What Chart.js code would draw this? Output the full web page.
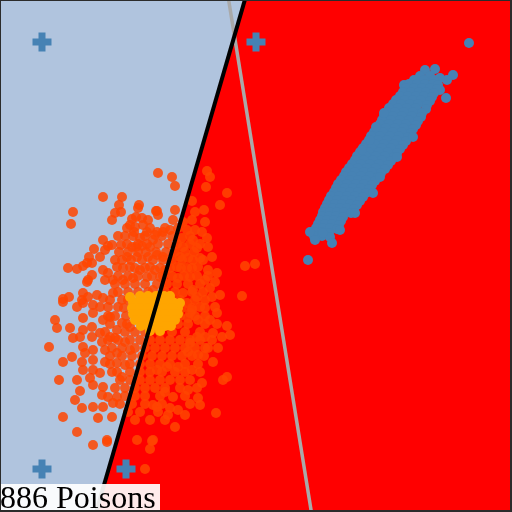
<!DOCTYPE html>
<html>
<head>
<meta charset="utf-8">
<script src="https://cdn.jsdelivr.net/npm/chart.js@4/dist/chart.umd.min.js"></script>
<style>
  html, body { margin: 0; padding: 0; background: #ffffff; }
  #wrap { position: relative; width: 512px; height: 512px; overflow: hidden; }
  #c { position: absolute; left: 0; top: 0; }
  #label {
    position: absolute; left: 0; top: 484px; width: 160px; height: 28px;
    background: rgba(255,255,255,0.92);
    font-family: "Liberation Serif", "Times New Roman", serif;
    font-size: 32px; line-height: 26px; color: #000; white-space: nowrap;
  }
  #frame {
    position: absolute; left: 0; top: 0; width: 512px; height: 512px; box-sizing: border-box;
    border-top: 1px solid #2b2b2b; border-left: 1px solid #2b2b2b;
    border-right: 2px solid #2b2b2b; border-bottom: 2px solid #2b2b2b;
    pointer-events: none;
  }
</style>
</head>
<body>
<div id="wrap">
  <canvas id="c" width="512" height="512"></canvas>
  <div id="label">886 Poisons</div>
  <div id="frame"></div>
</div>
<script>
// Plot domain (x to the right, y downward)
const domainX = [0, 512];
const domainY = [0, 512];

// Decision regions and boundaries
const blueRegion = [[-4, -4], [246, -4], [95, 516], [-4, 516]];
const redRegion = [[246, -4], [516, -4], [516, 516], [95, 516]];
const blackBoundary = [[246, -4], [95, 516]];
const grayBoundary = [[228, -4], [312, 516]];

// Plus markers
const plusMarkers = [[42, 42], [256, 42], [42, 469], [126, 469]];

// Blue (steel blue) cluster
const blueCluster = [
  [469,43],[453,75],[447,80],[425,70],[435,69],[404,85],[440,90],[446,98],
  [420,76],[430,76],[440,78],
  [414,80],[424,80],[434,80],
  [409,84],[417,84],[425,84],[433,84],[438,85],
  [406,88],[414,88],[422,88],[430,88],[437,89],
  [403,92],[411,92],[419,92],[426,92],[434,93],
  [400,96],[408,96],[416,96],[424,96],[432,97],
  [396,100],[405,100],[413,100],[421,100],[430,101],
  [393,104],[401,104],[410,104],[418,104],[427,105],
  [389,108],[398,108],[407,108],[416,108],[426,109],
  [387,112],[395,112],[404,112],[413,112],[422,113],
  [384,116],[393,116],[402,116],[412,116],[421,117],
  [382,120],[391,120],[400,120],[409,120],[418,121],
  [380,124],[389,124],[398,124],[406,124],[416,125],
  [377,128],[386,128],[395,128],[404,128],[413,129],
  [374,132],[383,132],[393,132],[402,132],[411,133],
  [371,136],[380,136],[390,136],[399,136],[408,137],
  [369,140],[378,140],[387,140],[397,140],[406,141],
  [366,144],[375,144],[384,144],[394,144],[403,145],
  [363,148],[372,148],[382,148],[391,148],[400,149],
  [360,152],[369,152],[379,152],[388,152],[397,153],
  [357,156],[366,156],[376,156],[385,156],[394,157],
  [355,160],[364,160],[373,160],[382,160],[391,161],
  [352,164],[361,164],[370,164],[379,164],[388,165],
  [349,168],[358,168],[367,168],[376,168],[385,169],
  [346,172],[355,172],[364,172],[372,172],[381,173],
  [344,176],[352,176],[361,176],[370,176],[378,177],
  [341,180],[350,180],[358,180],[366,180],[375,181],
  [338,184],[347,184],[356,184],[364,184],[372,185],
  [336,188],[345,188],[353,188],[361,188],[369,189],
  [334,192],[342,192],[350,192],[358,192],[366,193],
  [331,196],[339,196],[347,196],[355,196],[363,197],
  [329,200],[337,200],[345,200],[352,200],[360,201],
  [327,204],[335,204],[342,204],[350,204],[357,205],
  [325,208],[333,208],[340,208],[347,208],[354,209],
  [323,212],[330,212],[337,212],[344,212],[351,213],
  [322,216],[329,216],[336,216],[343,217],
  [320,220],[327,220],[334,220],[341,221],
  [318,224],[325,224],[332,224],[339,225],
  [316,228],[323,228],[330,228],[337,229],
  [315,232],[322,232],[329,233],
  [314,236],[322,236],[330,237],
  [310,232],[315,240],[323,233],[332,243],[308,260],
  [384,113],[376,127],[370,140],[362,150],[413,137],[397,157],[380,177],[373,193],[355,213],[340,230]
];

// Orange-red cluster
const orangeCluster = [
  [158,173],[103,197],[122,197],[73,212],[71,224],[119,205],[115,213],[121,212],[112,220],
  [139,205],[138,208],[156,211],[132,219],[136,217],[142,218],[148,220],[130,225],[135,227],
  [143,225],[134,232],[147,232],[157,232],[118,236],[103,240],[140,238],[153,240],[108,246],
  [112,245],[121,245],[94,249],[105,250],[132,247],[136,247],[142,246],[100,257],[89,257],
  [115,260],[127,257],[137,257],[148,257],[87,263],[92,263],[83,266],[68,268],[77,269],
  [103,270],[117,267],[108,273],[130,267],[140,270],[150,267],[92,275],[88,280],[87,282],
  [105,280],[113,280],[123,280],[133,278],[147,277],[83,293],[82,300],[88,297],[63,299],
  [69,297],[97,295],[103,298],[113,293],[122,300],[93,305],[100,307],[108,307],[118,307],
  [172,177],[175,186],[207,171],[210,177],[206,187],[227,193],[192,201],[220,205],
  [157,211],[158,215],[175,210],[195,212],[204,210],[205,222],[173,220],[163,232],[170,230],
  [155,235],[183,222],[192,220],[187,230],[195,230],[202,232],[182,238],[193,240],[207,238],
  [208,247],[183,247],[197,248],[212,257],[180,257],[188,258],[200,258],[245,266],[255,264],
  [177,267],[187,268],[198,267],[208,270],[217,273],[178,278],[190,277],[205,280],[215,282],
  [193,290],[210,288],[220,295],[212,297],[242,296],[197,297],[200,307],[215,307],[183,293],
  [187,303],[165,270],[160,277],[155,270],[150,247],[157,255],[163,257],[153,290],[160,300],
  [63,302],[77,307],[83,303],[55,320],[57,328],[70,328],[83,318],[93,313],[103,320],[110,317],
  [83,330],[92,327],[100,333],[110,337],[117,330],[122,323],[130,327],[73,338],[80,337],
  [92,337],[102,342],[115,338],[125,342],[49,347],[83,347],[93,350],[105,350],[117,353],
  [130,350],[85,353],[72,357],[63,362],[93,360],[105,362],[117,363],[125,365],[82,362],
  [83,370],[93,370],[100,373],[90,378],[112,372],[122,377],[77,380],[59,380],[93,385],
  [103,387],[115,388],[80,391],[102,395],[108,397],[117,397],[75,400],[82,408],[93,407],
  [103,407],[113,403],[63,417],[98,418],[112,417],[77,432],[107,440],[93,445],
  [190,313],[188,318],[192,310],[217,313],[198,320],[210,320],[227,326],[230,335],[222,337],
  [213,333],[205,337],[197,337],[190,343],[208,348],[218,348],[198,355],[188,352],[213,362],
  [157,370],[167,367],[178,367],[192,370],[227,377],[223,380],[202,383],[160,380],[170,380],
  [180,388],[188,390],[165,392],[173,397],[198,398],[200,405],[153,405],[157,407],[170,408],
  [178,410],[185,415],[168,415],[216,413],[175,427],[153,440],
  [137,440],[152,441],[150,449],[145,469],[107,442],
  // dense interior
  [127,228],[150,228],[165,228],[178,228],
  [125,236],[133,236],[145,236],[162,236],[172,236],[190,236],
  [127,244],[138,244],[147,244],[158,244],[168,244],[177,244],[190,244],[200,244],
  [119,252],[128,252],[138,252],[146,252],[156,252],[166,252],[175,252],[185,252],[194,252],
  [122,260],[131,260],[142,260],[153,260],[163,260],[172,260],[182,260],[193,260],[203,260],
  [123,268],[135,268],[145,268],[160,268],[170,268],[181,268],[192,268],
  [118,276],[128,276],[138,276],[152,276],[163,276],[172,276],[184,276],[197,276],[208,276],
  [115,284],[125,284],[135,284],[145,284],[157,284],[167,284],[177,284],[188,284],[200,284],
  [118,292],[128,292],[138,292],[148,292],[165,292],[175,292],[192,292],[203,292],
  [110,300],[128,300],[140,300],[170,300],[180,300],[195,300],[205,300],
  [124,308],[182,308],[192,308],[205,308],
  [108,316],[115,316],[126,316],[180,316],[195,316],[205,316],
  [110,324],[127,324],[178,324],[188,324],[205,324],[217,324],
  [105,332],[125,332],[135,332],[145,332],[160,332],[172,332],[185,332],[200,332],
  [108,340],[118,340],[130,340],[140,340],[150,340],[160,340],[170,340],[180,340],[190,340],[200,340],[212,340],
  [112,348],[122,348],[135,348],[145,348],[155,348],[165,348],[175,348],[185,348],[195,348],[205,348],
  [110,356],[122,356],[132,356],[142,356],[152,356],[162,356],[172,356],[182,356],[192,356],[204,356],
  [110,364],[130,364],[140,364],[150,364],[160,364],[170,364],[185,364],[198,364],
  [117,372],[130,372],[140,372],[150,372],[162,372],[175,372],[185,372],[200,372],
  [120,380],[130,380],[140,380],[150,380],[180,380],[190,380],
  [125,388],[135,388],[145,388],[155,388],[165,388],[197,388],
  [125,396],[135,396],[145,396],[160,396],[185,396],
  [120,404],[132,404],[145,404],[162,404],[190,404],
  [128,412],[140,412],[158,412],
  [135,420],[150,420],[165,420]
];

// Orange core
const orangeCore = [
  [140,296],[148,296],[156,296],[164,296],
  [133,302],[141,302],[149,302],[157,302],[165,302],[173,302],
  [132,308],[140,308],[148,308],[156,308],[164,308],[172,308],[178,308],
  [133,314],[141,314],[149,314],[157,314],[165,314],[173,314],[178,314],
  [135,320],[143,320],[151,320],[159,320],[167,320],[175,320],
  [141,326],[149,326],[157,326],[165,326],[171,326],
  [150,331],[160,331],[130,297],[170,296],[180,303]
];

const toXY = arr => arr.map(p => ({x: p[0], y: p[1]}));

new Chart(document.getElementById('c'), {
  type: 'scatter',
  data: {
    datasets: [
      { label: 'black', data: toXY(blackBoundary), showLine: true, borderColor: '#000000',
        borderWidth: 4, pointRadius: 0, fill: false, order: 0 },
      { label: 'plus', data: toXY(plusMarkers), pointStyle: 'cross', pointRadius: 9.5,
        pointBorderWidth: 7, pointBorderColor: '#4682B4', pointBackgroundColor: '#4682B4', order: 1 },
      { label: 'core', data: toXY(orangeCore), pointRadius: 5, pointBorderWidth: 0,
        pointBackgroundColor: '#FFA500', order: 2 },
      { label: 'blue', data: toXY(blueCluster), pointRadius: 5, pointBorderWidth: 0,
        pointBackgroundColor: '#4682B4', order: 3 },
      { label: 'orange', data: toXY(orangeCluster), pointRadius: 5, pointBorderWidth: 0,
        pointBackgroundColor: 'rgba(255,69,0,0.85)', order: 4 },
      { label: 'gray', data: toXY(grayBoundary), showLine: true, borderColor: '#A9A9A9',
        borderWidth: 3.5, pointRadius: 0, fill: false, order: 5 },
      { label: 'blueRegion', data: toXY(blueRegion), showLine: true, borderWidth: 0,
        borderColor: 'rgba(0,0,0,0)', backgroundColor: '#B0C4DE', fill: 'shape', pointRadius: 0, order: 6 },
      { label: 'redRegion', data: toXY(redRegion), showLine: true, borderWidth: 0,
        borderColor: 'rgba(0,0,0,0)', backgroundColor: '#FF0000', fill: 'shape', pointRadius: 0, order: 7 }
    ]
  },
  options: {
    responsive: false,
    devicePixelRatio: 1,
    animation: false,
    events: [],
    layout: { padding: 0, autoPadding: false },
    plugins: { legend: { display: false }, tooltip: { enabled: false }, title: { display: false } },
    scales: {
      x: { type: 'linear', min: domainX[0], max: domainX[1], display: false },
      y: { type: 'linear', min: domainY[0], max: domainY[1], reverse: true, display: false }
    }
  }
});
</script>
</body>
</html>
